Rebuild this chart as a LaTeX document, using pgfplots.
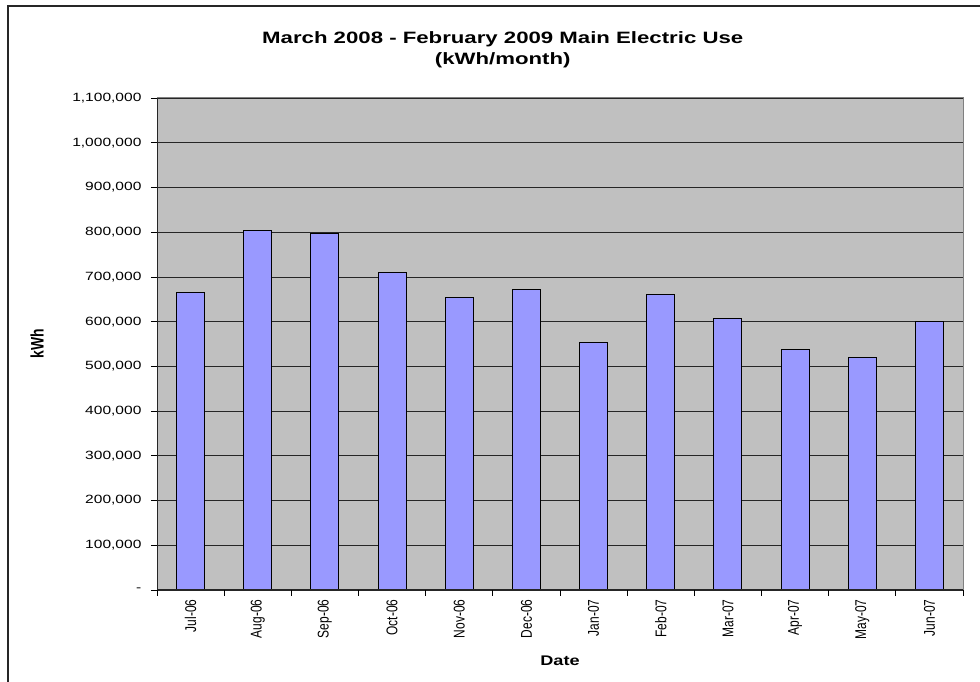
\documentclass[border=0pt]{standalone}
\usepackage{fontspec}
\setmainfont{Liberation Sans}
\usepackage{pgfplots}
\pgfplotsset{compat=1.18}
\definecolor{plotgray}{HTML}{C0C0C0}
\definecolor{barblue}{HTML}{9999FF}
\definecolor{edgegray}{HTML}{808080}

\begin{document}
\begin{tikzpicture}
\path[use as bounding box] (0bp,0bp) rectangle (980bp,682bp);
% chart area frame (cut off at right and bottom)
\draw[line width=1.3bp, black!85] (8bp,-5bp) -- (8bp,676bp) -- (985bp,676bp);
\begin{axis}[
    at={(157bp,92bp)}, anchor=south west,
    scale only axis, width=806bp, height=492bp,
    xmin=-0.5, xmax=11.5,
    ymin=0, ymax=1100000,
    axis background/.style={fill=plotgray},
    axis line style={draw=edgegray, line width=1bp},
    ybar, bar width=28bp,
    xtick={0,1,2,3,4,5,6,7,8,9,10,11},
    xticklabels={Jul-06,Aug-06,Sep-06,Oct-06,Nov-06,Dec-06,Jan-07,Feb-07,Mar-07,Apr-07,May-07,Jun-07},
    major x tick style={draw=none},
    minor xtick={-0.5,0.5,1.5,2.5,3.5,4.5,5.5,6.5,7.5,8.5,9.5,10.5,11.5},
    ytick={0,100000,200000,300000,400000,500000,600000,700000,800000,900000,1000000,1100000},
    yticklabels={-,{100,000},{200,000},{300,000},{400,000},{500,000},{600,000},{700,000},{800,000},{900,000},{1,000,000},{1,100,000}},
    scaled y ticks=false,
    tick pos=left,
    tick align=outside,
    major tick length=6bp, minor tick length=6bp,
    tick style={black, line width=0.8bp},
    ymajorgrids,
    grid style={black!85, line width=0.8bp},
    yticklabel style={font=\fontsize{12}{14}\selectfont, xshift=-5bp, xscale=1.3},
    xticklabel style={font=\fontsize{12}{14}\selectfont, rotate=90, anchor=east, yscale=1.3},
    title={March 2008 - February 2009 Main Electric Use\\(kWh/month)},
    title style={at={([yshift=42bp]rel axis cs:0.429,1)}, anchor=center, align=center,
        font=\bfseries\fontsize{16.5}{21}\selectfont, xscale=1.35},
    xlabel={Date},
    xlabel style={at={([yshift=-71bp]rel axis cs:0.5,0)}, anchor=center,
        font=\bfseries\fontsize{14}{16}\selectfont, xscale=1.3},
    ylabel={kWh},
    ylabel style={at={([xshift=-120bp]rel axis cs:0,0.5)}, anchor=center,
        font=\bfseries\fontsize{14}{16}\selectfont, yscale=1.3},
]
\addplot[fill=barblue, draw=black, line width=1bp] coordinates {
    (0,666000) (1,804000) (2,796000) (3,710000) (4,654000) (5,672000)
    (6,554000) (7,660000) (8,606000) (9,537000) (10,519000) (11,601000)
};
\draw[black!85, line width=1.5bp] (rel axis cs:0,1) -- (rel axis cs:0,0) -- (rel axis cs:1,0);
\end{axis}
\end{tikzpicture}
\end{document}
